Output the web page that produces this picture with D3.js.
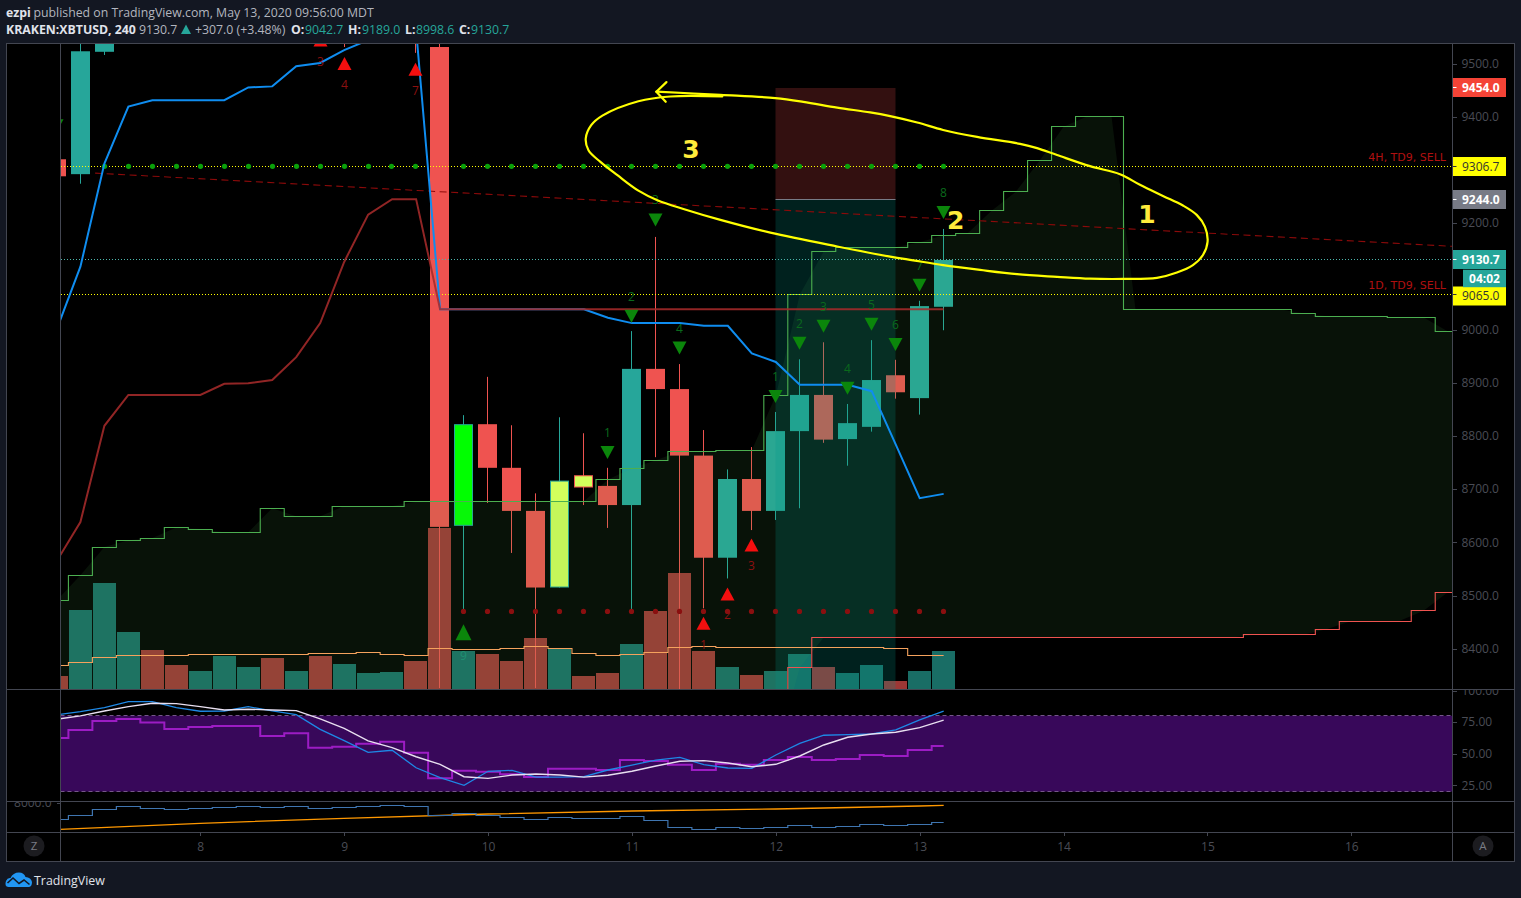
<!DOCTYPE html>
<html><head><meta charset="utf-8">
<style>
html,body{margin:0;padding:0;background:#131722;overflow:hidden}
svg{display:block}
text{font-family:"Open Sans","Noto Sans",sans-serif}
.axis path,.axis line{stroke:#434651;shape-rendering:crispEdges}
.axis text{fill:#4a4c55;font-size:12px;font-family:"Open Sans",sans-serif}
</style>
<script src="https://cdn.jsdelivr.net/npm/d3@7"></script>
</head><body><svg id="c" width="1521" height="898"></svg>
<script>
// ---- data ----
const dayTicks=[8,9,10,11,12,13,14,15,16];
const priceTicks=[8400,8500,8600,8700,8800,8900,9000,9200,9400,9500];
const rsiTicks=[25,50,75,100];
// candles: bar index (day = 7 + k/6), open, high, low, close
const candleK=[0,1,2,12,15,16,17,18,19,20,21,22,23,24,25,26,27,28,29,30,31,32,33,34,35,36,37];
const candleO=[9320,9292,9522,9700,9700,9531,8631,8822,8740,8659,8515,8726,8706,8670,8926,8888,8763,8571,8719,8659,8809,8877,8794,8817,8914,8871,9042.7];
const candleH=[9322,9560,9640,9760,9760,9600,8839,8911,8820,8692,8835,8805,8740,8997,9174,8935,8811,8737,8779,8845,8944,8976,8860,8980,8943,9054,9189];
const candleL=[9285,9274,9516,9531,9520,8326,8473,8674,8580,8326,8515,8670,8627,8473,8760,8324,8476,8532,8623,8642,8664,8787,8744,8808,8870,8840,8998.6];
const candleC=[9288,9523,9600,9620,9600,8629,8822,8740,8659,8515,8716,8703,8670,8926,8888,8763,8571,8719,8659,8809,8877,8793,8824,8905,8882,9044,9130.7];
const highlightK=[17,21,22];
const highlightFill=["#00ff00","#d2ff5c","#d2ff5c"];
// volume per bar from k=0
const volume=[130,790,1060,570,390,240,180,330,220,310,180,330,250,160,170,280,1610,380,350,280,510,403,130,160,450,780,1160,380,220,140,180,350,220,160,240,80,180,380];
const volumeUpK=[1,2,3,6,7,8,10,12,13,14,17,21,24,28,30,31,33,34,36,37];
const volumeMA=[237,267,317,337,337,337,347,347,347,347,347,357,357,367,347,337,407,397,397,407,427,407,357,337,347,367,417,427,417,417,417,417,417,417,417,407,337,337];
// upper (green) / lower (red) projected bands, k=0..59
const bandUpper=[8490,8538,8591,8604,8608,8628,8625,8619,8619,8664,8649,8649,8668,8668,8668,8676,8677,8677,8677,8677,8677,8677,8677,8718,8739,8754,8771,8771,8773,8773,8876,9066,9147,9154.5,9154.5,9154.5,9164,9177,9181,9223,9258.5,9317,9381,9401,9401,9038,9038,9038,9038,9038,9038,9038,9030.5,9025,9025,9025,9023,9023,8997,8997];
const bandLower=[8200,8200,8200,8200,8200,8200,8200,8200,8200,8200,8200,8200,8200,8200,8200,8200,8200,8200,8200,8200,8200,8200,8200,8200,8200,8200,8200,8200,8200,8200,8200,8365,8421,8421,8421,8421,8421,8421,8421,8421,8421,8421,8421,8421,8421,8421,8421,8421,8421,8421,8426,8426,8426,8437,8452,8452,8452,8471,8505,8505];
// moving averages, k=0..
const blueMA=[8999,9118,9312,9419,9431,9431,9431,9431,9455,9457,9495,9501,9525,9544,9563,9563,9038,9038,9038,9038,9038,9038,9038,9022,9012,9012,9012,9007,9007,8955,8939,8896,8896,8896,8884,8784,8683,8691];
const redMA=[8564,8638,8819,8877,8877,8877,8877,8898,8899,8905,8948,9012,9127,9216,9245,9245,9038,9038,9038,9038,9038,9038,9038,9038,9038,9038,9038,9038,9038,9038,9038,9038,9038,9038,9038,9038,9038,9038];
// TD sequence marks: bar index, price of the triangle centre, count
const tdDownK=[23,24,25,26,30,31,32,33,34,35,36,37];
const tdDownP=[8769,9025,9206,8965,8874,8974,9006,8889.5,9010,8972,9083,9220];
const tdDownN=["1","2","3","4","1","2","3","4","5","6","7","8"];
const tdUpK=[11,12,15,27,28,29];
const tdUpP=[9544,9500,9489,8448,8503,8595];
const tdUpN=["3","4","7","1","2","3"];
const nineK=[17],nineP=[8431],nineN=["9"];
const levelGreenK=d3.range(2,38).filter(k=>k!==16);
const levelRedK=d3.range(17,38);
const levelGreen=9306.7,levelRed=8470;
// price lines
const trendDays=[7.269,16.7],trendPrices=[9294,9156.4];
const sellLevels=[9306.7,9065];
const sellLabels=["4H, TD9, SELL","1D, TD9, SELL"];
const lastPrice=9130.7;
// position box
const boxDays=[12,12.833],boxTop=9454,boxEntry=9244,boxStop=8300;
// RSI pane
const rsiStep=[62.4,68.8,75.9,77.5,74.6,69.6,71.2,72,72,64,66.2,54.8,55.5,57.9,59.5,50.8,30.5,36.5,35.7,33.7,31.5,38.1,38.1,37.1,45,44.2,41.3,37.1,42.1,41.3,45,47.4,45,45.8,49,48.2,52.9,56.1];
const rsiBlue=[80.7,83.3,86.5,91.2,91.2,86.5,83.6,83.8,87.2,83.8,80.9,69.3,60.3,51.1,52.7,38.9,31,25,36.1,36.8,31.5,31.5,31.8,37.1,41,45,47.1,41.3,38.7,38.4,49,58.2,64.6,65.1,65.6,68.8,76.7,83.6];
const rsiWhite=[77.3,79.9,83.8,87.2,89.9,89.6,87.2,84.6,85.2,84.6,84.1,77.5,70.1,60.1,54.8,47.6,41.6,31.8,30.5,33.1,33.9,33.1,31.5,32.9,36.1,40.3,44,44.5,42.6,39.7,41.6,48.2,56.9,63,65.6,67,70.6,76.5];
// lowest pane
const lowBlue=[7666,7754,7874,7934,7894,7874,7894,7914,7934,7914,7934,7894,7914,7934,7954,7934,7754,7794,7754,7720,7674,7714,7694,7694,7734,7654,7514,7474,7514,7494,7514,7554,7514,7534,7574,7554,7574,7614];
const lowOrangeDays=[7,8,9,10,11,12,13,13.167];
const lowOrange=[7470,7594,7694,7780,7840,7880,7940,7954];
// hand drawing: [day, price]
const sketch=[[11.17,9447],[11.615,9441],[11.997,9435],[12.191,9428],[12.427,9417],[12.656,9408],[12.795,9401],[12.983,9389],[13.163,9375],[13.399,9362],[13.698,9349],[13.816,9341],[13.955,9328],[14.184,9307],[14.392,9292],[14.531,9272],[14.691,9251],[14.83,9233],[14.927,9215],[14.983,9193],[15.001,9165],[14.969,9140],[14.899,9121],[14.788,9107],[14.649,9097],[14.413,9095],[14.184,9095.5],[13.955,9099],[13.677,9104],[13.42,9112],[13.163,9121],[12.955,9130],[12.795,9137],[12.427,9156],[11.962,9182],[11.615,9206],[11.358,9226.5],[11.177,9243],[11.045,9261],[10.899,9290],[10.781,9315],[10.698,9337],[10.679,9359],[10.717,9384],[10.795,9402],[11.045,9429],[11.267,9438],[11.628,9438]];
const sketchArrow=[[11.24,9465],[11.17,9447],[11.235,9428]];
const sketchNumbers=["3","2","1"],sketchNumDays=[11.41,13.25,14.58],sketchNumPrices=[9339,9205,9218];
// price tags
const tagValues=[9454,9306.7,9244,9130.7,9065];
const tagFill=["#f44336","#ffff00","#787b86","#26a69a","#ffff00"];
const tagText=["#fff","#333","#fff","#fff","#333"];
const tagOffset=[0,0,0,0,1.5];

// ---- scales ----
const x=d3.scaleLinear().domain([8,16]).range([200.3,1351.3]);
const day=k=>7+k/6;
const xk=k=>x(day(k));
const snap=v=>Math.floor(v-.15)+0.5;
const snapY=v=>Math.floor(v)+0.5;
const yP=d3.scaleLinear().domain([8400,9500]).range([648.7,63.5]);
const yV=d3.scaleLinear().domain([0,1600]).range([689,529]);
const yR=d3.scaleLinear().domain([25,75]).range([785.3,722.1]);
const yT=d3.scaleLinear().domain([7400,8000]).range([833,803]);

const svg=d3.select("#c");
const L=60.5,R=1452.5,T=43.5,B1=689.5,B2=801.5,B3=832.5,B4=861.5,OL=6.5,OR=1514.5;
const defs=svg.append("defs");
function clip(id,x0,y0,x1,y1){defs.append("clipPath").attr("id",id).append("rect").attr("x",x0).attr("y",y0).attr("width",x1-x0).attr("height",y1-y0);}
clip("cMain",L,T,R,B1);clip("cRsi",L,B1,R,B2);clip("cLow",L,B2,R,B3);clip("cGut",OL,B2,L,B3);clip("cRax",R,B1,OR,B2);

svg.append("rect").attr("x",OL).attr("y",T).attr("width",OR-OL).attr("height",B4-T).attr("fill","#000");

// ---- main pane ----
const m=svg.append("g").attr("clip-path","url(#cMain)");
// volume
const vUp=new Set(volumeUpK);
m.append("g").selectAll("rect").data(volume).join("rect")
 .attr("x",(d,i)=>snap(xk(i))-11.5).attr("width",23)
 .attr("y",d=>yV(d)).attr("height",d=>yV(0)-yV(d))
 .attr("fill",(d,i)=>vUp.has(i)?"#26a69a":"#ef5350").attr("opacity",.66);
// candles
const candles=candleK.map((k,i)=>({k,o:candleO[i],h:candleH[i],l:candleL[i],c:candleC[i]}));
const cg=m.append("g");
candles.forEach(d=>{
 const col=d.c>=d.o?"#26a69a":"#ef5350",cx=snap(xk(d.k));
 const hi=highlightK.indexOf(d.k);
 cg.append("line").attr("x1",cx).attr("x2",cx).attr("y1",yP(d.h)).attr("y2",yP(d.l)).attr("stroke",col).attr("stroke-width",1);
 const top=yP(Math.max(d.o,d.c)),bot=yP(Math.min(d.o,d.c));
 if(hi>=0){cg.append("rect").attr("x",cx-9).attr("width",18).attr("y",top+.5).attr("height",bot-top-1).attr("fill",highlightFill[hi]).attr("stroke",col);}
 else{cg.append("rect").attr("x",cx-9.5).attr("width",19).attr("y",top).attr("height",bot-top).attr("fill",col);}
});
// band fill (linear) over the candles
const bandK=bandUpper.map((d,i)=>i);
m.append("path").datum(bandK).attr("fill","rgba(76,175,80,0.1)")
 .attr("d",d3.area().x(xk).y0(k=>yP(bandLower[k])).y1(k=>yP(bandUpper[k])));
// position box
const bx0=snap(x(boxDays[0])),bx1=snap(x(boxDays[1]));
m.append("rect").attr("x",bx0).attr("width",bx1-bx0).attr("y",yP(boxTop)).attr("height",yP(boxEntry)-yP(boxTop)).attr("fill","rgba(255,82,82,0.2)");
m.append("rect").attr("x",bx0).attr("width",bx1-bx0).attr("y",yP(boxEntry)).attr("height",yP(boxStop)-yP(boxEntry)).attr("fill","rgba(0,150,136,0.22)");
m.append("line").attr("x1",bx0).attr("x2",bx1).attr("y1",snapY(yP(boxEntry))).attr("y2",snapY(yP(boxEntry))).attr("stroke","#787b86");
// stepped band lines + volume MA
const step=d3.line().curve(d3.curveStep);
m.append("path").attr("fill","none").attr("stroke","#4caf50").attr("stroke-width",1.1)
 .attr("d",step(bandUpper.map((v,i)=>[xk(i),snapY(yP(v))])));
m.append("path").attr("fill","none").attr("stroke","#ef5350").attr("stroke-width",1.1)
 .attr("d",step(bandLower.map((v,i)=>[xk(i),snapY(yP(v))])));
m.append("path").attr("fill","none").attr("stroke","#f5a25d").attr("stroke-width",1.1)
 .attr("d",step(volumeMA.map((v,i)=>[xk(i),snapY(yV(v))])));
// price lines
sellLevels.concat([lastPrice]).forEach((p,i)=>{
 m.append("line").attr("x1",61).attr("x2",R).attr("y1",snapY(yP(p))).attr("y2",snapY(yP(p)))
  .attr("stroke",i<2?"#ffff00":"#4db6ac").attr("stroke-dasharray","1 2").attr("shape-rendering","crispEdges");
});
m.append("line").attr("x1",x(trendDays[0])).attr("x2",x(trendDays[1])).attr("y1",yP(trendPrices[0])).attr("y2",yP(trendPrices[1]))
 .attr("stroke","#8c0a0a").attr("stroke-dasharray","7 4.5").attr("stroke-width",1.1);
// level dots
m.append("g").selectAll("circle").data(levelGreenK).join("circle").attr("cx",k=>snap(xk(k))).attr("cy",yP(levelGreen)).attr("r",2.6).attr("fill","#0aa00a");
m.append("g").selectAll("circle").data(levelRedK).join("circle").attr("cx",k=>snap(xk(k))).attr("cy",yP(levelRed)).attr("r",2.6).attr("fill","#8a0f0f");
// MAs
const lin=d3.line();
m.append("path").attr("fill","none").attr("stroke","#0f8df0").attr("stroke-width",2)
 .attr("d",lin(blueMA.map((v,i)=>[xk(i),yP(v)])));
m.append("path").attr("fill","none").attr("stroke","#a52a2a").attr("stroke-width",2).attr("opacity",.88)
 .attr("d",lin(redMA.map((v,i)=>[xk(i),yP(v)])));
// TD triangles
const tri=(cx,cy,w,h,up)=>up?`M${cx-w/2},${cy+h/2}L${cx},${cy-h/2}L${cx+w/2},${cy+h/2}Z`:`M${cx-w/2},${cy-h/2}L${cx},${cy+h/2}L${cx+w/2},${cy-h/2}Z`;
tdDownK.forEach((k,i)=>{
 const cx=snap(xk(k)),cy=yP(tdDownP[i]);
 m.append("path").attr("d",tri(cx,cy,14,13,false)).attr("fill","#0b860b");
 m.append("text").attr("x",cx).attr("y",cy-15.5).attr("text-anchor","middle").attr("font-size",12).attr("fill","#0a6a1c").text(tdDownN[i]);
});
tdUpK.forEach((k,i)=>{
 const cx=snap(xk(k)),cy=yP(tdUpP[i]);
 m.append("path").attr("d",tri(cx,cy,14,13,true)).attr("fill","#f40f0f");
 m.append("text").attr("x",cx).attr("y",cy+25.5).attr("text-anchor","middle").attr("font-size",12).attr("fill","#8c1010").text(tdUpN[i]);
});
nineK.forEach((k,i)=>{
 const cx=snap(xk(k)),cy=yP(nineP[i]);
 m.append("path").attr("d",tri(cx,cy,16,16,true)).attr("fill","#0b860b");
 m.append("text").attr("x",cx).attr("y",cy+27.5).attr("text-anchor","middle").attr("font-size",12).attr("fill","#1f9070").text(nineN[i]);
});
// small clipped triangle at the left edge
m.append("path").attr("d",tri(snap(xk(0)),yP(9383),14,13,false)).attr("fill","#0b860b");
// sell labels
sellLevels.forEach((p,i)=>{
 m.append("text").attr("x",1446).attr("y",yP(p)-(i?5.5:5)).attr("text-anchor","end").attr("font-size",11)
  .attr("fill","#b01010").attr("style","font-family:'DejaVu Sans'").text(sellLabels[i]);
});
// hand drawing
const sk=d3.line().x(d=>x(d[0])).y(d=>yP(d[1])).curve(d3.curveCatmullRom.alpha(.5));
svg.append("path").attr("fill","none").attr("stroke","#ffff00").attr("stroke-width",2.2).attr("stroke-linecap","round").attr("d",sk(sketch));
svg.append("path").attr("fill","none").attr("stroke","#ffff00").attr("stroke-width",2.2).attr("stroke-linecap","round").attr("d",d3.line().x(d=>x(d[0])).y(d=>yP(d[1]))(sketchArrow));
sketchNumbers.forEach((n,i)=>{
 svg.append("text").attr("x",x(sketchNumDays[i])).attr("y",yP(sketchNumPrices[i])+9).attr("text-anchor","middle")
  .attr("font-size",25).attr("font-weight","bold").attr("fill","#ffeb3b").attr("style","font-family:'DejaVu Sans'").text(n);
});

// ---- RSI pane ----
const r=svg.append("g").attr("clip-path","url(#cRsi)");
r.append("rect").attr("x",L).attr("width",R-L).attr("y",yR(80)).attr("height",yR(20)-yR(80)).attr("fill","#38085a");
[80,20].forEach(v=>r.append("line").attr("x1",L).attr("x2",R).attr("y1",snapY(yR(v))).attr("y2",snapY(yR(v))).attr("stroke","#75568a").attr("stroke-dasharray","4 3"));
r.append("path").attr("fill","none").attr("stroke","#9c1cc4").attr("stroke-width",2)
 .attr("d",step(rsiStep.map((v,i)=>[xk(i),yR(v)])));
r.append("path").attr("fill","none").attr("stroke","#1e88e5").attr("stroke-width",1.3)
 .attr("d",lin(rsiBlue.map((v,i)=>[xk(i),yR(v)])));
r.append("path").attr("fill","none").attr("stroke","#e8dff0").attr("stroke-width",1.4)
 .attr("d",lin(rsiWhite.map((v,i)=>[xk(i),yR(v)])));

// ---- lowest pane ----
const lp=svg.append("g").attr("clip-path","url(#cLow)");
lp.append("path").attr("fill","none").attr("stroke","#ff9800").attr("stroke-width",1.3)
 .attr("d",d3.line().x((d,i)=>x(lowOrangeDays[i])).y(d=>yT(d))(lowOrange));
lp.append("path").attr("fill","none").attr("stroke","#3f75b0").attr("stroke-width",1.2)
 .attr("d",step(lowBlue.map((v,i)=>[xk(i),snapY(yT(v))])));

// ---- axes ----
const axP=svg.append("g").attr("class","axis").attr("transform",`translate(${R},0)`)
 .call(d3.axisRight(yP).tickValues(priceTicks).tickFormat(d3.format(".1f")).tickSize(4).tickPadding(5));
axP.select(".domain").remove();
const axR=svg.append("g").attr("class","axis").attr("clip-path","url(#cRax)");
axR.append("g").attr("transform",`translate(${R},0)`)
 .call(d3.axisRight(yR).tickValues(rsiTicks).tickFormat(d3.format(".2f")).tickSize(4).tickPadding(5))
 .select(".domain").remove();
const axL=svg.append("g").attr("class","axis").attr("clip-path","url(#cGut)");
axL.append("g").attr("transform",`translate(${L},0)`)
 .call(d3.axisLeft(yT).tickValues([8000]).tickFormat(d3.format(".1f")).tickSize(4).tickPadding(5))
 .select(".domain").remove();
const axT=svg.append("g").attr("class","axis").attr("transform",`translate(0,${B3})`)
 .call(d3.axisBottom(x).tickValues(dayTicks).tickFormat(d3.format("d")).tickSize(3.5).tickPadding(6));
axT.select(".domain").remove();

// tags
tagValues.forEach((v,i)=>{
 const cy=snapY(yP(v))+tagOffset[i];
 svg.append("rect").attr("x",R).attr("width",53.5).attr("y",cy-9.5).attr("height",19).attr("fill",tagFill[i]);
 svg.append("line").attr("x1",R).attr("x2",R+4).attr("y1",snapY(yP(v))).attr("y2",snapY(yP(v))).attr("stroke",tagText[i]);
 svg.append("text").attr("x",R+9.5).attr("y",cy+4.3).attr("font-size",12).attr("font-weight",tagText[i]==="#fff"?"700":"400").attr("fill",tagText[i]).text(d3.format(".1f")(v));
});
svg.append("rect").attr("x",1463).attr("y",269.7).attr("width",43).attr("height",17.5).attr("fill","#26a69a");
svg.append("text").attr("x",1484.5).attr("y",282.8).attr("text-anchor","middle").attr("font-size",12).attr("font-weight","700").attr("fill","#fff").text("04:02");

// ---- frame ----
const frame=svg.append("g").attr("stroke","#434651").attr("shape-rendering","crispEdges").attr("fill","none");
frame.append("rect").attr("x",OL).attr("y",T).attr("width",OR-OL).attr("height",B4-T);
[B1,B2,B3].forEach(y=>frame.append("line").attr("x1",OL).attr("x2",OR).attr("y1",y).attr("y2",y));
[L,R].forEach(xx=>frame.append("line").attr("x1",xx).attr("x2",xx).attr("y1",T).attr("y2",B4));

// corner buttons
[[34,"Z"],[1483,"A"]].forEach(([cx,t])=>{
 svg.append("circle").attr("cx",cx).attr("cy",846).attr("r",10.5).attr("fill","#1c1c20");
 svg.append("text").attr("x",cx).attr("y",850).attr("text-anchor","middle").attr("font-size",11.5).attr("fill","#7a7c85").text(t);
});

// ---- header ----
function run(y,parts){parts.forEach(p=>{svg.append("text").attr("x",p[0]).attr("y",y).attr("font-size",12.3).attr("font-weight",p[3]||400).attr("fill",p[2]).text(p[1]);});}
run(17,[[6,"ezpi","#e0e3eb",700],[33.5,"published on TradingView.com, May 13, 2020 09:56:00 MDT","#b2b5be"]]);
run(34,[[6,"KRAKEN:XBTUSD, 240","#e0e3eb",700],[139,"9130.7","#b2b5be"],[195,"+307.0 (+3.48%)","#b2b5be"],[291,"O:","#e0e3eb",700],[305,"9042.7","#26a69a"],[348,"H:","#e0e3eb",700],[362,"9189.0","#26a69a"],[405,"L:","#e0e3eb",700],[416,"8998.6","#26a69a"],[459,"C:","#e0e3eb",700],[471,"9130.7","#26a69a"]]);
svg.append("path").attr("d","M181,34L186,24.5L191,34Z").attr("fill","#26a69a");

// ---- footer logo ----
svg.append("path").attr("d","M8.5,887Q4,886.5 6,881Q7.5,877.5 10.5,878Q13,872.5 19,872.5Q24,872.5 25.5,877Q31,877.5 32,882Q32,886.5 29,887Z").attr("fill","#2196f3");
svg.append("path").attr("d","M7.5,883L13,878L19,883.5L24,880L29.5,884.5").attr("fill","none").attr("stroke","#131722").attr("stroke-width",1.6);
svg.append("text").attr("x",34).attr("y",884.5).attr("font-size",12.4).attr("fill","#e0e3eb").text("TradingView");
</script></body></html>
